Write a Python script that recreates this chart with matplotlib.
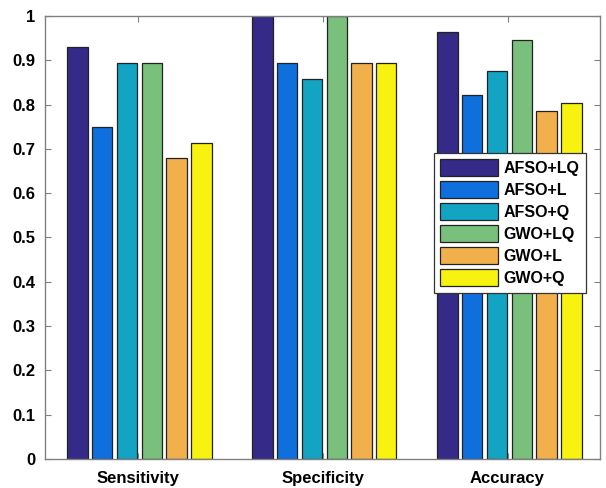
import numpy as np
from matplotlib import pyplot as plt

categories = ["Sensitivity", "Specificity", "Accuracy"]
methods = ["AFSO+LQ", "AFSO+L", "AFSO+Q", "GWO+LQ", "GWO+L", "GWO+Q"]
afso_lq = [0.929, 1.000, 0.964]
afso_l = [0.750, 0.893, 0.821]
afso_q = [0.893, 0.857, 0.875]
gwo_lq = [0.893, 1.000, 0.946]
gwo_l = [0.679, 0.893, 0.786]
gwo_q = [0.714, 0.893, 0.804]
series = [afso_lq, afso_l, afso_q, gwo_lq, gwo_l, gwo_q]
colors = ["#352a87", "#0f6fdc", "#12a4c2", "#78c07b", "#f1b04b", "#f7f20f"]

plt.rcParams['font.family'] = ['Liberation Sans', 'DejaVu Sans']
plt.rcParams['font.weight'] = 'bold'

fig = plt.figure(figsize=(6.06, 4.88), dpi=100)
ax = fig.add_axes([45/606, 29/488, 555/606, 443/488])

x = np.arange(1, len(categories) + 1)
slot = 0.134
width = 0.11
for i, (vals, name) in enumerate(zip(series, methods)):
    ax.bar(x + (i - 2.5) * slot + 0.01, vals, width, color=colors[i], label=name,
           edgecolor="#222222", linewidth=0.9)

ax.set_xlim(0.5, 3.5)
ax.set_ylim(0, 1)
ax.set_xticks(x)
ax.set_xticklabels(categories, fontsize=12, fontweight='bold')
ax.set_yticks(np.arange(0, 1.01, 0.1))
ax.set_yticklabels(["0"] + ["%.1f" % v for v in np.arange(0.1, 0.95, 0.1)] + ["1"],
                   fontsize=12, fontweight='bold')
ax.tick_params(direction='in', top=True, right=True, length=4, color="#808080")
ax.tick_params(axis='x', pad=9)
ax.tick_params(axis='y', pad=7)
for s in ax.spines.values():
    s.set_color("#808080")
    s.set_linewidth(1.0)

leg = ax.legend(loc='upper left', bbox_to_anchor=((434-45)/555, (459-153)/443),
                borderaxespad=0, fancybox=False, framealpha=1, handlelength=3.6,
                handleheight=1.25, labelspacing=0.32, borderpad=0.4, handletextpad=0.35,
                prop={'weight': 'bold', 'size': 11.5})
leg.get_frame().set_edgecolor("#333333")
leg.get_frame().set_linewidth(0.9)

fig.savefig("out.png", dpi=100)
